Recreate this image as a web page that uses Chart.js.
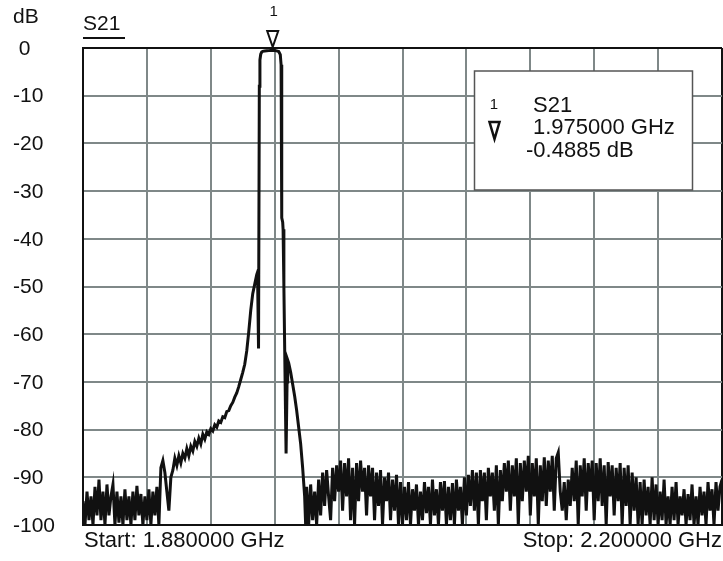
<!DOCTYPE html>
<html>
<head>
<meta charset="utf-8">
<script src="https://cdn.jsdelivr.net/npm/chart.js@4.4.1/dist/chart.umd.min.js"></script>
<style>
  html, body { margin: 0; padding: 0; background: #fff; }
  canvas { display: block; }
</style>
</head>
<body>
<canvas id="chartS21" width="723" height="561"></canvas>
<script>
// ═══════════ DATOS ═══════════
const sweepMHz = [1880, 2200];
const dbRange = [-100, 0];
const traceName = 'S21';
const markerMHz = 1975;
const markerDb = -0.4885;

// ruido inferior
const noiseLowMHz = [1880,1881,1882,1883,1884,1885,1886,1887,1888,1889,1890,1891,1892,1893,1894,1895,1896,1897,1898,1899,
  1900,1901,1902,1903,1904,1905,1906,1907,1908,1909,1910,1911,1912,1913,1914,1915,1916,1917,1918];
const noiseLowDb = [-95,-100,-93,-99,-94,-100,-92,-98,-90.5,-99,-93,-100,-91.5,-98,-94,-91.5,-100,-93,-99.5,-94,
  -100,-92.5,-99,-94,-100,-93,-99,-91.8,-98,-93.5,-100,-94,-99,-92.5,-100,-93,-98,-92,-100];

// flanco inferior
const skirtLowMHz = [1919,1920,1921,1922,1923,1924,1925,1926,1927,1928,1929,1930,1931,1932,1933,1934,1935,1936,1937,1938,
  1939,1940,1941,1942,1943,1944,1945,1946,1947,1948,1949,1950,1951,1952,1953,1954,1955,1956,1957,1958,
  1959,1960,1961,1962,1963,1964,1965,1966,1967,1967.4,1967.9,1968.3,1968.6,1969,1969.5];
const skirtLowDb = [-88,-86.5,-89,-93,-97,-90,-88.5,-86,-87.5,-85.5,-87,-85,-86,-84,-85.5,-83.5,-84.5,-82.5,-83.5,-81.8,
  -83,-81,-82,-80.5,-81,-79.8,-80.3,-79,-79.5,-78.2,-78.5,-77.3,-77.5,-76.2,-76,-75,-74.3,-73.2,-72.3,-71,
  -69.5,-68,-66.3,-63.5,-59.5,-55,-51.5,-49.5,-47.5,-47,-63,-8,-2.5,-1.3,-0.85];

// banda de paso
const passbandMHz = [1970,1971,1972,1973,1974,1975,1976,1977,1978,1978.8,1979.2,1979.45];
const passbandDb = [-0.7,-0.65,-0.6,-0.55,-0.5,-0.4885,-0.52,-0.6,-0.75,-1.4,-3.5,-12];

// flanco superior
const skirtHighMHz = [1979.6,1980,1980.2,1980.6,1981,1981.4,1981.7,1982.2,1982.5,1983,1984,1985,1986,1987,1988,1989,1990,1991,1991.5];
const skirtHighDb = [-35.6,-36.5,-38,-50,-63,-76,-85,-70,-65.4,-66,-68,-70.5,-73,-76,-79.5,-83,-88,-94,-100];

// ruido superior
const noiseHighMHz = [1992,1993,1994,1995,1996,1997,1998,1999,2000,
  2001,2002,2003,2004,2005,2006,2007,2008,2009,2010,2011,2012,2013,2014,2015,2016,2017,2018,2019,2020,
  2021,2022,2023,2024,2025,2026,2027,2028,2029,2030,2031,2032,2033,2034,2035,2036,2037,2038,2039,2040,
  2041,2042,2043,2044,2045,2046,2047,2048,2049,2050,2051,2052,2053,2054,2055,2056,2057,2058,2059,2060,
  2061,2062,2063,2064,2065,2066,2067,2068,2069,2070,2071,2072,2073,2074,2075,2076,2077,2078,2079,2080,
  2081,2082,2083,2084,2085,2086,2087,2088,2089,2090,2091,2092,2093,2094,2095,2096,2097,2098,2099,2100,
  2101,2102,2103,2104,2105,2106,2107,2108,2109,2110,2111,2112,2113,2114,2115,2116,2117,2118,2119,2120,
  2121,2122,2123,2124,2125,2126,2127,2128,2129,2130,2131,2132,2133,2134,2135,2136,2137,2138,2139,2140,
  2141,2142,2143,2144,2145,2146,2147,2148,2149,2150,2151,2152,2153,2154,2155,2156,2157,2158,2159,2160,
  2161,2162,2163,2164,2165,2166,2167,2168,2169,2170,2171,2172,2173,2174,2175,2176,2177,2178,2179,2180,
  2181,2182,2183,2184,2185,2186,2187,2188,2189,2190,2191,2192,2193,2194,2195,2196,2197,2198,2199,2200];
const noiseHighDb = [-92,-100,-91.5,-99,-93,-100,-90.5,-98,-89,
  -96,-88.5,-94,-99,-88,-95,-87.5,-93,-86.5,-97,-87,-94,-86,-99,-88,-100,-87,-95,-86.5,-93,
  -88,-98,-87.5,-94,-88,-99,-89,-96,-88.5,-100,-90,-95,-89,-99,-90.5,-97,-89.5,-100,-91,-100,
  -92,-99,-91,-100,-92.5,-97,-91.5,-100,-93,-99,-91,-97.5,-92,-100,-90.5,-98,-92.5,-100,-91,-97,
  -90.8,-100,-92,-99,-91.2,-100,-90.5,-97,-92,-100,-90,-98,-89.5,-96,-88.5,-97,-89,-100,-88.5,-95,
  -89,-99,-88,-94,-89,-97,-87.5,-100,-88.5,-95,-87,-93,-86.5,-97,-87.5,-94,-86,-100,-87,-95,
  -86.5,-93,-85.5,-98,-87,-94,-86,-100,-87.5,-95,-85.8,-96,-86.5,-93,-85.5,-97,-86,-84.8,-93,-97,
  -91,-99,-90.5,-96,-88,-95,-86.5,-100,-87.5,-94,-86,-97,-87,-93,-86.5,-99,-87,-95,-86,-96,
  -87.5,-100,-86.8,-94,-87.5,-98,-88,-95,-87,-100,-88,-96,-87.5,-100,-89,-97,-90,-100,-91,-100,
  -90.5,-98,-92,-100,-90,-99,-91.5,-100,-93,-99,-90.5,-100,-94,-100,-92,-99,-91,-100,-94,-98,
  -92.5,-100,-93.5,-99,-91.5,-100,-94,-100,-92,-98,-93,-100,-91,-97,-92.5,-100,-91,-97,-92,-90.5];

const traceMHz = [...noiseLowMHz, ...skirtLowMHz, ...passbandMHz, ...skirtHighMHz, ...noiseHighMHz];
const traceDb = [...noiseLowDb, ...skirtLowDb, ...passbandDb, ...skirtHighDb, ...noiseHighDb];

// ═══════════ ESTILO ═══════════
const FONT = '"Liberation Sans", Arial, sans-serif';
const INK = '#111';
const GRID = '#7f8888';

// ═══════════ TEXTOS / MARCADOR ═══════════
const overlay = {
  id: 'overlay',
  afterDraw(chart) {
    const { ctx, chartArea: a, scales: { x, y } } = chart;
    ctx.save();
    ctx.fillStyle = INK;
    ctx.strokeStyle = INK;
    ctx.textBaseline = 'middle';

    // etiquetas eje y
    ctx.font = '21px ' + FONT;
    ctx.textAlign = 'left';
    y.ticks.forEach(t => {
      const label = t.value === 0 ? ' 0' : String(t.value);
      ctx.fillText(label, 13, y.getPixelForValue(t.value) + 1);
    });
    ctx.fillText('dB', 13, 17);

    // nombre de la traza
    ctx.fillText(traceName, a.left, 24);
    ctx.lineWidth = 2;
    ctx.beginPath();
    ctx.moveTo(a.left, 38);
    ctx.lineTo(a.left + 42, 38);
    ctx.stroke();

    // start / stop
    ctx.font = '22px ' + FONT;
    ctx.fillText('Start: ' + (sweepMHz[0] / 1000).toFixed(6) + ' GHz', a.left + 1, 541);
    ctx.textAlign = 'right';
    ctx.fillText('Stop: ' + (sweepMHz[1] / 1000).toFixed(6) + ' GHz', 722, 541);

    // marcador 1
    const mx = x.getPixelForValue(markerMHz);
    ctx.lineWidth = 2;
    ctx.beginPath();
    ctx.moveTo(mx - 5.5, 31);
    ctx.lineTo(mx + 5.5, 31);
    ctx.lineTo(mx, a.top - 1);
    ctx.closePath();
    ctx.stroke();
    ctx.textAlign = 'center';
    ctx.font = '15px ' + FONT;
    ctx.fillText('1', mx + 1, 12);

    // cuadro del marcador
    ctx.fillStyle = '#fff';
    ctx.fillRect(474.5, 71, 218, 119);
    ctx.strokeStyle = '#555';
    ctx.lineWidth = 1.5;
    ctx.strokeRect(474.5, 71, 218, 119);

    ctx.fillStyle = INK;
    ctx.strokeStyle = INK;
    ctx.font = '15px ' + FONT;
    ctx.fillText('1', 494, 105);
    ctx.lineWidth = 2.5;
    ctx.beginPath();
    ctx.moveTo(489.5, 122);
    ctx.lineTo(499.5, 122);
    ctx.lineTo(494.5, 139);
    ctx.closePath();
    ctx.stroke();

    ctx.textAlign = 'left';
    ctx.font = '22px ' + FONT;
    ctx.fillText(traceName, 533, 106);
    ctx.fillText((markerMHz / 1000).toFixed(6) + ' GHz', 533, 128);
    ctx.fillText(markerDb.toFixed(4) + ' dB', 526, 151);
    ctx.restore();
  }
};

// ═══════════ GRAFICO ═══════════
const edgeColor = (edges) => (c) => edges.includes(c.tick && c.tick.value) ? INK : GRID;

new Chart(document.getElementById('chartS21'), {
  type: 'line',
  data: {
    datasets: [{
      label: traceName,
      data: traceMHz.map((f, i) => ({ x: f, y: traceDb[i] })),
      borderColor: INK,
      borderWidth: 3,
      pointRadius: 0,
      tension: 0,
      fill: false
    }]
  },
  options: {
    responsive: false,
    animation: false,
    devicePixelRatio: 1,
    layout: { padding: { left: 83, top: 48, right: 1, bottom: 36 } },
    plugins: { legend: { display: false }, tooltip: { enabled: false } },
    scales: {
      x: {
        type: 'linear', min: sweepMHz[0], max: sweepMHz[1],
        ticks: { display: false, stepSize: 32 },
        grid: { color: edgeColor(sweepMHz), lineWidth: 2, drawTicks: false },
        border: { display: true, color: INK, width: 2 }
      },
      y: {
        min: dbRange[0], max: dbRange[1],
        ticks: { display: false, stepSize: 10 },
        grid: { color: edgeColor(dbRange), lineWidth: 2, drawTicks: false },
        border: { display: true, color: INK, width: 2 }
      }
    }
  },
  plugins: [overlay]
});
</script>
</body>
</html>
